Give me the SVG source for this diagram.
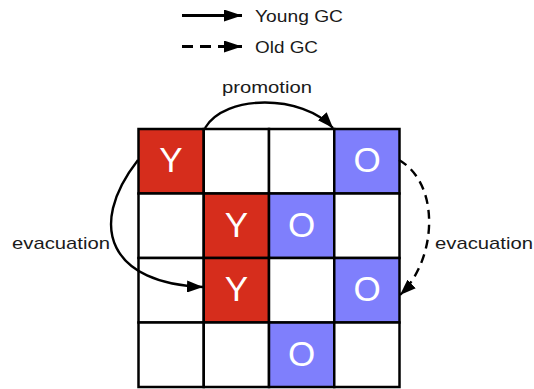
<svg xmlns="http://www.w3.org/2000/svg" width="534" height="389" viewBox="0 0 534 389">
  <style>
    .cell { stroke: #000; stroke-width: 2.5; }
    .empty { fill: #fff; }
    .young { fill: #D62D1C; }
    .old { fill: #7F7FFC; }
    .mark { font-family: "Liberation Sans", Arial, sans-serif; font-size: 35px; fill: #fff; text-anchor: middle; }
    .label { font-family: "Liberation Sans", Arial, sans-serif; font-size: 17px; fill: #1a1a1a; }
    .edge { fill: none; stroke: #000; stroke-width: 2.4; }
    .key { stroke-width: 2.8; }
    .dashed { stroke-dasharray: 9 6; }
    .key.dashed { stroke-dasharray: 11 7; }
  </style>
  <defs>
    <marker id="head" viewBox="0 0 16 12" refX="16" refY="6" markerWidth="16" markerHeight="12" markerUnits="userSpaceOnUse" orient="auto">
      <path d="M0,0 L16,6 L0,12 Z" fill="#000"/>
    </marker>
    <marker id="keyhead" viewBox="0 0 18 12" refX="18" refY="6" markerWidth="18" markerHeight="12" markerUnits="userSpaceOnUse" orient="auto">
      <path d="M0,0 L18,6 L0,12 Z" fill="#000"/>
    </marker>
  </defs>

  <!-- legend -->
  <g id="legend">
    <line class="edge key" x1="182" y1="15.5" x2="242" y2="15.5" marker-end="url(#keyhead)"/>
    <text class="label" x="255" y="22" textLength="88" lengthAdjust="spacingAndGlyphs">Young GC</text>
    <line class="edge key dashed" x1="182" y1="46.5" x2="242" y2="46.5" marker-end="url(#keyhead)"/>
    <text class="label" x="255" y="53" textLength="63" lengthAdjust="spacingAndGlyphs">Old GC</text>
  </g>

  <!-- heap regions, 4 x 4 -->
  <g id="r0c0"><rect class="cell young" x="138.5" y="129" width="65.25" height="64.5"/><text class="mark" x="171" y="172">Y</text></g>
  <g id="r0c1"><rect class="cell empty" x="203.75" y="129" width="65.25" height="64.5"/></g>
  <g id="r0c2"><rect class="cell empty" x="269" y="129" width="65.25" height="64.5"/></g>
  <g id="r0c3"><rect class="cell old" x="334.25" y="129" width="65.25" height="64.5"/><text class="mark" x="367" y="172">O</text></g>

  <g id="r1c0"><rect class="cell empty" x="138.5" y="193.5" width="65.25" height="64.5"/></g>
  <g id="r1c1"><rect class="cell young" x="203.75" y="193.5" width="65.25" height="64.5"/><text class="mark" x="236.5" y="236.5">Y</text></g>
  <g id="r1c2"><rect class="cell old" x="269" y="193.5" width="65.25" height="64.5"/><text class="mark" x="301.5" y="236.5">O</text></g>
  <g id="r1c3"><rect class="cell empty" x="334.25" y="193.5" width="65.25" height="64.5"/></g>

  <g id="r2c0"><rect class="cell empty" x="138.5" y="258" width="65.25" height="64.5"/></g>
  <g id="r2c1"><rect class="cell young" x="203.75" y="258" width="65.25" height="64.5"/><text class="mark" x="236.5" y="301">Y</text></g>
  <g id="r2c2"><rect class="cell empty" x="269" y="258" width="65.25" height="64.5"/></g>
  <g id="r2c3"><rect class="cell old" x="334.25" y="258" width="65.25" height="64.5"/><text class="mark" x="367" y="301">O</text></g>

  <g id="r3c0"><rect class="cell empty" x="138.5" y="322.5" width="65.25" height="64.5"/></g>
  <g id="r3c1"><rect class="cell empty" x="203.75" y="322.5" width="65.25" height="64.5"/></g>
  <g id="r3c2"><rect class="cell old" x="269" y="322.5" width="65.25" height="64.5"/><text class="mark" x="301.5" y="365.5">O</text></g>
  <g id="r3c3"><rect class="cell empty" x="334.25" y="322.5" width="65.25" height="64.5"/></g>

  <!-- collection moves -->
  <g id="connectors">
    <path class="edge" d="M205,128 C225,94 302,94 333,128" marker-end="url(#head)"/>
    <text class="label" x="222" y="93" textLength="90" lengthAdjust="spacingAndGlyphs">promotion</text>
    <path class="edge" d="M138,160 C85,228 112,284 203,287" marker-end="url(#head)"/>
    <text class="label" x="12" y="249" textLength="98" lengthAdjust="spacingAndGlyphs">evacuation</text>
    <path class="edge dashed" d="M399,160 C441,184 437,260 400,295" marker-end="url(#head)"/>
    <text class="label" x="435" y="249" textLength="98" lengthAdjust="spacingAndGlyphs">evacuation</text>
  </g>
</svg>
